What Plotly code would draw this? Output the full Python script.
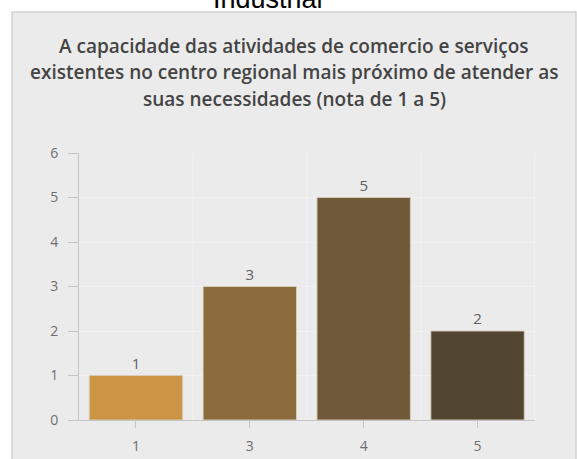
import plotly.graph_objects as go

categories = ["1", "3", "4", "5"]
values = [1, 3, 5, 2]
bar_colors = ["#CD9445", "#8B6B3C", "#705939", "#524632"]
title_lines = [
    "A capacidade das atividades de comercio e serviços",
    "existentes no centro regional mais próximo de atender as",
    "suas necessidades (nota de 1 a 5)",
]
header_text = "Industrial"

W, H = 577, 459
FONT = "Open Sans, Lato, sans-serif"

def px(x):
    return x / W

def py(y):
    return 1 - y / H

fig = go.Figure()
fig.add_trace(go.Bar(
    x=categories, y=values, text=[str(v) for v in values],
    textposition="outside", cliponaxis=False,
    textfont=dict(family=FONT, size=15, color="#5e5e5e"),
    marker=dict(color=bar_colors, line=dict(color="rgba(215,205,185,0.9)", width=1)),
    hoverinfo="skip",
))

shapes = [
    dict(type="rect", xref="paper", yref="paper", x0=px(12), x1=px(576), y0=-0.05, y1=py(12),
         fillcolor="#ebebeb", line=dict(color="#d2d2d2", width=1.5), layer="below"),
]
for b in [0.5, 1.5, 2.5, 3.5]:
    shapes.append(dict(type="line", xref="x", yref="y", x0=b, x1=b, y0=0, y1=6,
                       line=dict(color="#f1f1f1", width=1), layer="below"))

annotations = [
    dict(text=header_text, xref="paper", yref="paper", x=px(268), y=py(-1),
         xanchor="center", yanchor="middle", showarrow=False,
         font=dict(family="Liberation Sans, Arial, sans-serif", size=27, color="#000")),
]
for i, line in enumerate(title_lines):
    annotations.append(dict(text=line, xref="paper", yref="paper", x=px(294), y=py(46 + 26.5 * i),
                            xanchor="center", yanchor="middle", showarrow=False,
                            font=dict(family=FONT, size=19, color="#444", weight=600)))

fig.update_layout(
    width=W, height=H, margin=dict(l=0, r=0, t=0, b=0, autoexpand=False),
    paper_bgcolor="white", plot_bgcolor="rgba(0,0,0,0)",
    showlegend=False, bargap=0.18,
    shapes=shapes, annotations=annotations,
    xaxis=dict(domain=[px(79), px(535)], type="category", showgrid=False, automargin=False,
               showline=True, linecolor="#c4c4c4", linewidth=1,
               ticks="outside", ticklen=7, tickcolor="#c4c4c4", ticklabelstandoff=6,
               tickfont=dict(family=FONT, size=14, color="#6e6e6e"),
               fixedrange=True),
    yaxis=dict(domain=[py(420), py(153)], range=[0, 6], dtick=1, automargin=False,
               showgrid=True, gridcolor="#f1f1f1", gridwidth=1, zeroline=False,
               showline=True, linecolor="#c4c4c4", linewidth=1,
               ticks="outside", ticklen=10, tickcolor="#c4c4c4",
               ticksuffix="\u2002",
               tickfont=dict(family=FONT, size=14, color="#6e6e6e"),
               fixedrange=True),
)
fig.write_html(
    "out.html",
    config={"displayModeBar": False, "responsive": False},
    post_script="document.body.style.margin='0';document.body.style.overflow='hidden';",
)
